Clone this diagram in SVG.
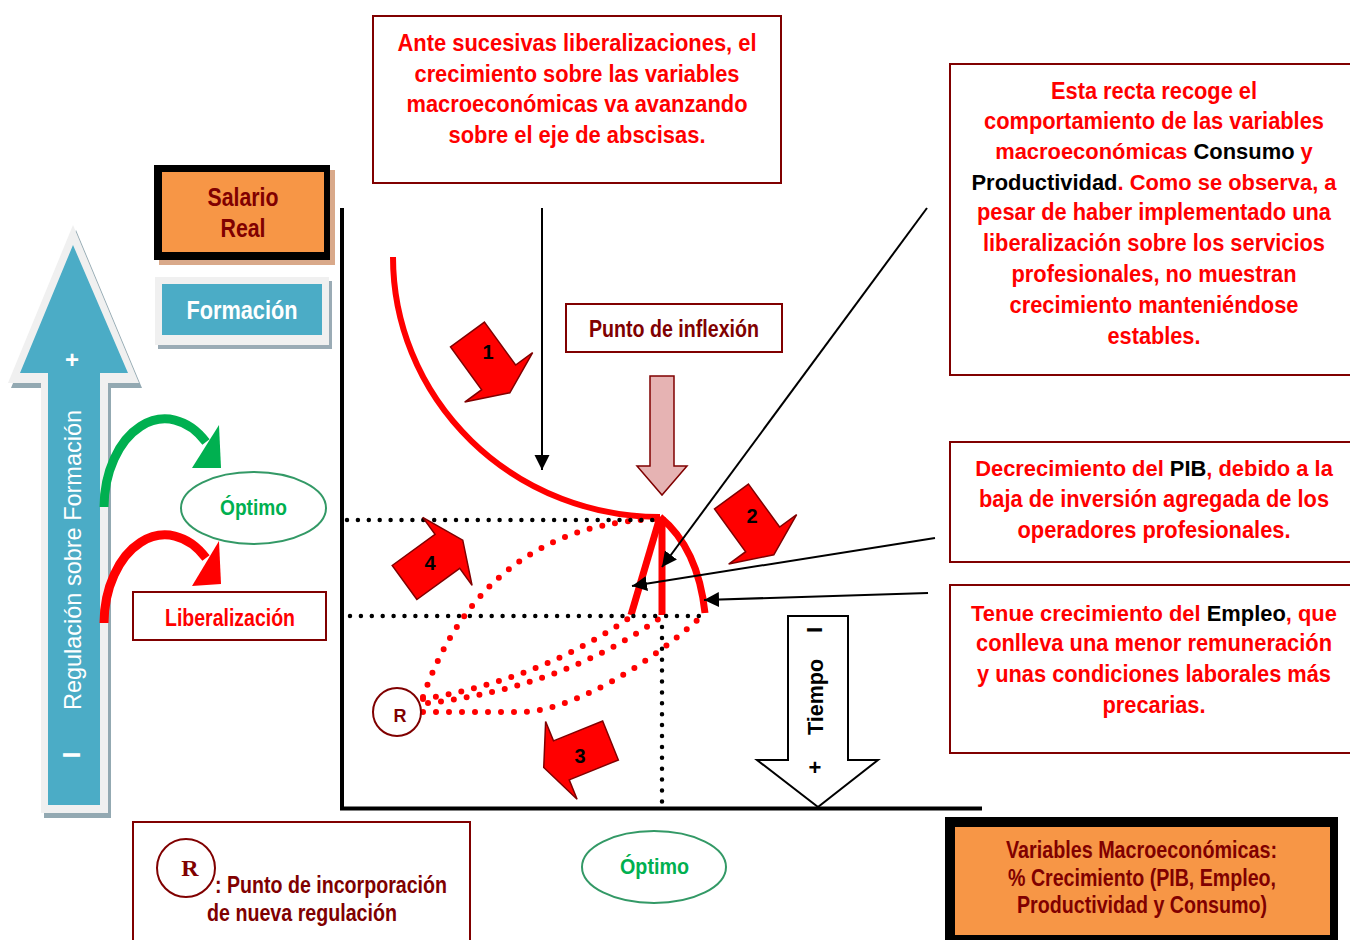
<svg xmlns="http://www.w3.org/2000/svg" width="1350" height="940" viewBox="0 0 1350 940">
<style>
text{font-family:"Liberation Sans Narrow","Liberation Sans",Arial,sans-serif;font-weight:bold}
.t{font-size:23px;fill:#ff0000;text-anchor:middle}
.tm{font-size:21.9px}
.blk{fill:#000}
.dr{fill:#800000}
.box{fill:#fff;stroke:#800000;stroke-width:2}
.ell{fill:#fff;stroke:#339966;stroke-width:2}
.opt{font-size:22px;fill:#00b050;text-anchor:middle}
.ln{stroke:#000;stroke-width:2;fill:none}
.dotk{stroke:#000;stroke-width:4.5;stroke-linecap:round;stroke-dasharray:0 10.9;fill:none}
.dotr{stroke:#ff0000;stroke-width:6;stroke-linecap:round;stroke-dasharray:0 13;fill:none}
.red{stroke:#ff0000;fill:none}
.blk-arrow{fill:#ff0000;stroke:#800000;stroke-width:1.5;stroke-linejoin:miter}
.num{font-size:20px;fill:#000;text-anchor:middle}
</style>
<defs>
<marker id="ah" markerUnits="userSpaceOnUse" markerWidth="16" markerHeight="16" refX="15" refY="7.5" orient="auto">
<path d="M0,0 L15,7.5 L0,15 z" fill="#000"/>
</marker>
<polygon id="barrow" points="0,-21 53,-21 53,-42 72,0 53,42 53,21 0,21"/>
</defs>
<rect width="1350" height="940" fill="#fff"/>

<g id="regulacion-arrow">
<polygon points="76,230 142,388 111,388 111,818 44,818 44,388 11,388" fill="#93a9b2"/>
<polygon points="73,225 139,383 108,383 108,813 41,813 41,383 8,383" fill="#f0f0f0"/>
<polygon points="73,245 128,373 100,373 100,805 48,805 48,373 20,373" fill="#4bacc6"/>
<text x="72" y="368" style="font-size:24px;fill:#fff;text-anchor:middle;font-family:'Liberation Sans',Arial,sans-serif">+</text>
<text transform="translate(81,560) rotate(-90)" style="font-size:24px;fill:#fff;text-anchor:middle;font-weight:normal;font-family:'Liberation Sans',Arial,sans-serif" textLength="300" lengthAdjust="spacingAndGlyphs">Regulación sobre Formación</text>
<text transform="translate(80,755) rotate(-90)" style="font-size:24px;fill:#fff;text-anchor:middle;font-family:'Liberation Sans',Arial,sans-serif">I</text>
</g>

<g id="salario-real">
<rect x="159" y="170" width="176" height="95" fill="#d9a98a"/>
<rect x="154" y="165" width="176" height="95" fill="#000"/>
<rect x="162" y="172" width="162" height="80" fill="#f79646"/>
<text x="243" y="206" class="dr" style="font-size:26px;text-anchor:middle" textLength="71" lengthAdjust="spacingAndGlyphs">Salario</text>
<text x="243" y="237" class="dr" style="font-size:26px;text-anchor:middle" textLength="45" lengthAdjust="spacingAndGlyphs">Real</text>
</g>

<g id="formacion">
<rect x="158" y="281" width="174" height="68" fill="#9aabb5"/>
<rect x="155" y="277" width="174" height="68" fill="#f0f0f0"/>
<rect x="162" y="284" width="160" height="51" fill="#4bacc6"/>
<text x="242" y="319" style="font-size:26px;fill:#fff;text-anchor:middle" textLength="111" lengthAdjust="spacingAndGlyphs">Formación</text>
</g>

<g id="curved-green">
<path d="M104,507 A61,89 0 0 1 206,442" fill="none" stroke="#00b050" stroke-width="9"/>
<polygon points="219,425 221,468 192,468" fill="#00b050"/>
</g>
<g id="curved-red">
<path d="M104,623 A61,89 0 0 1 206,558" fill="none" stroke="#ff0000" stroke-width="9"/>
<polygon points="219,541 221,584 192,586" fill="#ff0000"/>
</g>

<g id="optimo-1">
<ellipse cx="253.5" cy="508" rx="72.5" ry="36" class="ell"/>
<text x="253.5" y="515" class="opt" textLength="67" lengthAdjust="spacingAndGlyphs">Óptimo</text>
</g>

<g id="liberalizacion">
<rect x="133" y="592" width="193" height="48" class="box"/>
<text x="230" y="626" class="t" style="font-size:24px" textLength="130" lengthAdjust="spacingAndGlyphs">Liberalización</text>
</g>

<g id="box-top">
<rect x="373" y="16" width="408" height="167" class="box"/>
<text x="577" y="51" class="t" textLength="359" lengthAdjust="spacingAndGlyphs">Ante sucesivas liberalizaciones, el</text>
<text x="577" y="82" class="t" textLength="325" lengthAdjust="spacingAndGlyphs">crecimiento sobre las variables</text>
<text x="577" y="112" class="t" textLength="341" lengthAdjust="spacingAndGlyphs">macroeconómicas va avanzando</text>
<text x="577" y="143" class="t" textLength="257" lengthAdjust="spacingAndGlyphs">sobre el eje de abscisas.</text>
</g>

<g id="punto-inflexion">
<rect x="566" y="304" width="216" height="48" class="box"/>
<text x="674" y="337" class="dr" style="font-size:23px;text-anchor:middle" textLength="170" lengthAdjust="spacingAndGlyphs">Punto de inflexión</text>
</g>

<g id="pink-arrow">
<polygon points="650,376 674,376 674,466 687,466 662,495 637,466 650,466" fill="#e6b3b3" stroke="#800000" stroke-width="1.5"/>
</g>

<g id="box-right-1">
<rect x="950" y="64" width="420" height="311" class="box"/>
<text x="1154" y="99" class="t" textLength="206" lengthAdjust="spacingAndGlyphs">Esta recta recoge el</text>
<text x="1154" y="129" class="t" textLength="340" lengthAdjust="spacingAndGlyphs">comportamiento de las variables</text>
<text x="1154" y="159" class="t tm">macroeconómicas <tspan class="blk">Consumo</tspan> y</text>
<text x="1154" y="190" class="t tm"><tspan class="blk">Productividad</tspan>. Como se observa, a</text>
<text x="1154" y="220" class="t" textLength="354" lengthAdjust="spacingAndGlyphs">pesar de haber implementado una</text>
<text x="1154" y="251" class="t" textLength="342" lengthAdjust="spacingAndGlyphs">liberalización sobre los servicios</text>
<text x="1154" y="282" class="t" textLength="285" lengthAdjust="spacingAndGlyphs">profesionales, no muestran</text>
<text x="1154" y="313" class="t" textLength="289" lengthAdjust="spacingAndGlyphs">crecimiento manteniéndose</text>
<text x="1154" y="344" class="t" textLength="93" lengthAdjust="spacingAndGlyphs">estables.</text>
</g>

<g id="box-right-2">
<rect x="950" y="442" width="420" height="120" class="box"/>
<text x="1154" y="476" class="t tm">Decrecimiento del <tspan class="blk">PIB</tspan>, debido a la</text>
<text x="1154" y="507" class="t" textLength="350" lengthAdjust="spacingAndGlyphs">baja de inversión agregada de los</text>
<text x="1154" y="538" class="t" textLength="273" lengthAdjust="spacingAndGlyphs">operadores profesionales.</text>
</g>

<g id="box-right-3">
<rect x="950" y="585" width="420" height="168" class="box"/>
<text x="1154" y="621" class="t tm">Tenue crecimiento del <tspan class="blk">Empleo</tspan>, que</text>
<text x="1154" y="651" class="t" textLength="356" lengthAdjust="spacingAndGlyphs">conlleva una menor remuneración</text>
<text x="1154" y="682" class="t" textLength="354" lengthAdjust="spacingAndGlyphs">y unas condiciones laborales más</text>
<text x="1154" y="713" class="t" textLength="103" lengthAdjust="spacingAndGlyphs">precarias.</text>
</g>

<g id="tiempo-arrow">
<polygon points="788,616 848,616 848,760 878,760 818,807 757,760 788,760" fill="#fff" stroke="#000" stroke-width="2"/>
<text transform="translate(823,697) rotate(-90)" style="font-size:22px;fill:#000;text-anchor:middle;font-family:'Liberation Sans',Arial,sans-serif" textLength="76" lengthAdjust="spacingAndGlyphs">Tiempo</text>
<text transform="translate(822,630) rotate(-90)" style="font-size:22px;fill:#000;text-anchor:middle;font-family:'Liberation Sans',Arial,sans-serif">I</text>
<text x="815" y="775" style="font-size:22px;fill:#000;text-anchor:middle;font-family:'Liberation Sans',Arial,sans-serif">+</text>
</g>

<g id="axes">
<line x1="342" y1="208" x2="342" y2="810" stroke="#000" stroke-width="4"/>
<line x1="340" y1="808.5" x2="982" y2="808.5" stroke="#000" stroke-width="4"/>
</g>

<g id="curves">
<path d="M393,257 A267,260 0 0 0 660,517" class="red" stroke-width="6"/>
<path d="M660,517 L631,615" class="red" stroke-width="7"/>
<path d="M662,517 L662,615" class="red" stroke-width="7"/>
<path d="M660,517 Q698,548 705,613" class="red" stroke-width="7"/>
<path d="M423,697 C450,620 510,525 655,519" class="dotr"/>
<path d="M423,699 Q540,680 632,616" class="dotr"/>
<path d="M428,703 Q560,688 660,618" class="dotr"/>
<path d="M423,712 L520,712 C570,712 650,665 705,613" class="dotr"/>
</g>

<g id="dotted-guides">
<path d="M347,520 L660,520" class="dotk"/>
<path d="M350,616 L705,616" class="dotk"/>
<path d="M662,627 L662,805" class="dotk"/>
</g>

<g id="block-arrows">
<use href="#barrow" class="blk-arrow" transform="translate(467.5,334.5) rotate(54)"/>
<text x="488" y="359" class="num">1</text>
<use href="#barrow" class="blk-arrow" transform="translate(731.5,496.5) rotate(54)"/>
<text x="752" y="523" class="num">2</text>
<use href="#barrow" class="blk-arrow" transform="translate(610.5,740.5) rotate(158)"/>
<text x="580" y="763" class="num">3</text>
<use href="#barrow" class="blk-arrow" transform="translate(404.5,582.5) rotate(-36)"/>
<text x="430" y="570" class="num">4</text>
</g>

<g id="connectors">
<line x1="542" y1="208" x2="542" y2="470" class="ln" marker-end="url(#ah)"/>
<line x1="927" y1="208" x2="662" y2="567" class="ln" marker-end="url(#ah)"/>
<line x1="935" y1="538" x2="632" y2="586" class="ln" marker-end="url(#ah)"/>
<line x1="928" y1="593" x2="704" y2="600" class="ln" marker-end="url(#ah)"/>
</g>

<g id="r-point">
<circle cx="397" cy="712" r="24" fill="#fff" stroke="#800000" stroke-width="2"/>
<text x="400" y="722" class="dr" style="font-size:18px;text-anchor:middle">R</text>
</g>

<g id="legend">
<rect x="133" y="822" width="337" height="130" class="box"/>
<circle cx="186" cy="868" r="29" fill="#fff" stroke="#800000" stroke-width="2"/>
<text x="190" y="876" class="dr" style="font-size:24px;text-anchor:middle;font-family:'Liberation Serif','Times New Roman',serif">R</text>
<text x="215" y="893" class="dr" style="font-size:24px" textLength="232" lengthAdjust="spacingAndGlyphs">: Punto de incorporación</text>
<text x="207" y="921" class="dr" style="font-size:24px" textLength="190" lengthAdjust="spacingAndGlyphs">de nueva regulación</text>
</g>

<g id="optimo-2">
<ellipse cx="654" cy="867" rx="72" ry="36" class="ell"/>
<text x="654.5" y="874" class="opt" textLength="69" lengthAdjust="spacingAndGlyphs">Óptimo</text>
</g>

<g id="variables-box">
<rect x="945" y="817" width="393" height="130" fill="#000"/>
<rect x="955" y="827" width="375" height="108" fill="#f79646"/>
<text x="1141.5" y="858" class="dr" style="font-size:23px;text-anchor:middle" textLength="271" lengthAdjust="spacingAndGlyphs">Variables Macroeconómicas:</text>
<text x="1142" y="886" class="dr" style="font-size:23px;text-anchor:middle" textLength="268" lengthAdjust="spacingAndGlyphs">% Crecimiento (PIB, Empleo,</text>
<text x="1142" y="913" class="dr" style="font-size:23px;text-anchor:middle" textLength="250" lengthAdjust="spacingAndGlyphs">Productividad y Consumo)</text>
</g>
</svg>
